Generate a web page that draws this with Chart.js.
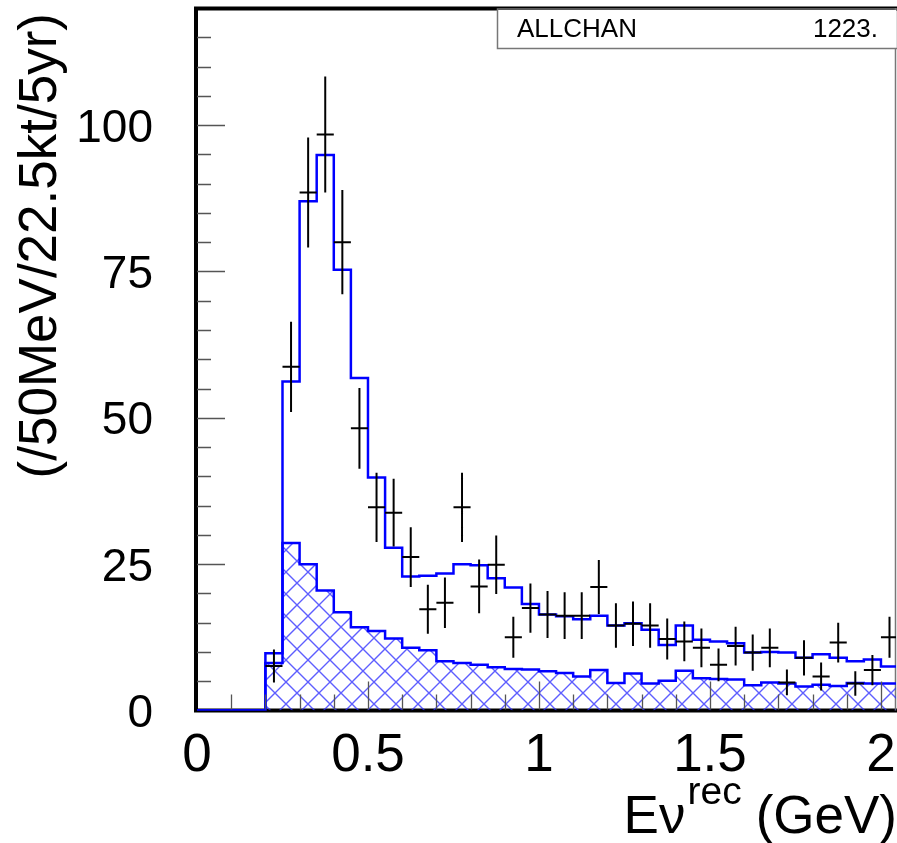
<!DOCTYPE html>
<html>
<head>
<meta charset="utf-8">
<script src="https://cdn.jsdelivr.net/npm/chart.js@4.4.1/dist/chart.umd.min.js"></script>
<style>
  html, body { margin: 0; padding: 0; background: #fff; }
  canvas { display: block; }
</style>
</head>
<body>
<canvas id="c" width="897" height="843"></canvas>
<script>
// bin low edges (GeV), 50 MeV bins
const binLow = [0, 0.05, 0.1, 0.15, 0.2, 0.25, 0.3, 0.35, 0.4, 0.45,
  0.5, 0.55, 0.6, 0.65, 0.7, 0.75, 0.8, 0.85, 0.9, 0.95,
  1.0, 1.05, 1.1, 1.15, 1.2, 1.25, 1.3, 1.35, 1.4, 1.45,
  1.5, 1.55, 1.6, 1.65, 1.7, 1.75, 1.8, 1.85, 1.9, 1.95, 2.0];
const binWidth = 0.05;

// total expectation (open blue histogram)
const totalMC = [0, 0, 0, 0, 9.8, 56.2, 87.0, 94.9, 75.3, 56.8,
  39.8, 27.8, 22.9, 23.0, 23.4, 25.0, 24.8, 22.6, 21.0, 18.2,
  16.4, 16.1, 15.6, 16.2, 14.5, 14.9, 13.8, 11.2, 14.5, 12.1,
  11.8, 11.5, 9.9, 10.0, 9.9, 9.0, 9.6, 9.0, 8.4, 8.7, 7.5];

// background (hatched histogram)
const background = [0, 0, 0, 0, 8.1, 28.6, 25.0, 20.5, 16.8, 14.2,
  13.6, 12.3, 10.7, 10.3, 8.4, 8.1, 7.8, 7.4, 7.1, 7.0,
  6.7, 6.4, 5.8, 6.9, 4.7, 6.3, 4.6, 5.1, 6.8, 5.5,
  5.4, 5.3, 4.3, 4.8, 4.6, 4.1, 4.4, 4.2, 4.7, 4.6, 4.6];

// pseudo data points and their errors
const dataVal = [null, null, null, null, 7.6, 58.7, 88.5, 98.4, 80.0, 48.2,
  34.7, 33.8, 26.2, 17.3, 18.4, 34.7, 21.2, 24.9, 12.5, 17.5,
  16.4, 16.2, 16.2, 21.1, 14.5, 14.8, 14.5, 12.2, 11.8, 10.7,
  7.8, 11.0, 9.9, 10.7, 4.8, 9.0, 5.8, 11.6, 4.6, 6.9, 12.5];
const dataErr = [null, null, null, null, 2.8, 7.7, 9.4, 9.9, 8.9, 6.9,
  5.9, 5.8, 5.1, 4.2, 4.3, 5.9, 4.6, 5.0, 3.5, 4.2,
  4.0, 4.0, 4.0, 4.6, 3.8, 3.8, 3.8, 3.5, 3.4, 3.3,
  2.8, 3.3, 3.1, 3.3, 2.2, 3.0, 2.4, 3.4, 2.1, 2.6, 3.5];

const xTicks = [0, 0.5, 1, 1.5, 2];
const xTickLabels = ["0", "0.5", "1", "1.5", "2"];
const yTicks = [0, 25, 50, 75, 100];
const yTickLabels = ["0", "25", "50", "75", "100"];
const boxLabel = "ALLCHAN";
const boxValue = "1223.";

const FONT = "'Liberation Sans', Arial, Helvetica, sans-serif";

// stepped histogram points: one per low edge + closing edge
const histPoints = (vals) => {
  const pts = binLow.map((x, i) => ({ x: x, y: vals[i] }));
  pts.push({ x: binLow[binLow.length - 1] + binWidth, y: vals[vals.length - 1] });
  return pts;
};

const makeHatch = () => {
  const s = 22;
  const c = document.createElement("canvas");
  c.width = s; c.height = s;
  const g = c.getContext("2d");
  g.strokeStyle = "rgba(40,40,255,0.75)";
  g.lineWidth = 1.4;
  g.beginPath();
  g.moveTo(-2, -2); g.lineTo(s + 2, s + 2);
  g.moveTo(s + 2, -2); g.lineTo(-2, s + 2);
  g.stroke();
  return g.createPattern(c, "repeat");
};

const rootStyle = {
  id: "rootStyle",
  beforeDatasetsDraw(chart) {
    const { ctx, chartArea: a } = chart;
    ctx.save();
    ctx.strokeStyle = "#000";
    ctx.lineWidth = 4;
    ctx.beginPath();
    ctx.moveTo(a.left - 1, a.top + 0.5);
    ctx.lineTo(a.right + 2, a.top + 0.5);
    ctx.moveTo(a.left - 1, a.top - 1.5);
    ctx.lineTo(a.left - 1, a.bottom + 2);
    ctx.moveTo(a.left - 3, a.bottom);
    ctx.lineTo(a.right + 2, a.bottom);
    ctx.stroke();
    ctx.strokeStyle = "#777";
    ctx.lineWidth = 1.5;
    ctx.beginPath();
    ctx.moveTo(a.right - 0.5, a.top);
    ctx.lineTo(a.right - 0.5, a.bottom);
    ctx.stroke();
    ctx.restore();
  },
  afterDatasetsDraw(chart) {
    const { ctx, chartArea: a, scales: { x, y } } = chart;
    ctx.save();

    // data crosses
    ctx.save();
    ctx.beginPath();
    ctx.rect(a.left, a.top, a.right - a.left, a.bottom - a.top);
    ctx.clip();
    ctx.strokeStyle = "#000";
    ctx.lineWidth = 2;
    ctx.beginPath();
    dataVal.forEach((v, i) => {
      if (v === null) return;
      const xc = x.getPixelForValue(binLow[i] + binWidth / 2);
      const x1 = x.getPixelForValue(binLow[i]);
      const x2 = x.getPixelForValue(binLow[i] + binWidth);
      const yc = y.getPixelForValue(v);
      ctx.moveTo(x1, yc);
      ctx.lineTo(x2, yc);
      ctx.moveTo(xc, y.getPixelForValue(v + dataErr[i]));
      ctx.lineTo(xc, y.getPixelForValue(v - dataErr[i]));
    });
    ctx.stroke();
    ctx.restore();

    // inward ticks
    ctx.strokeStyle = "#555";
    ctx.lineWidth = 1.3;
    ctx.beginPath();
    for (let k = 1; k * 5 < y.max; k++) {
      const v = k * 5;
      const py = Math.round(y.getPixelForValue(v)) + 0.5;
      const len = v % 25 === 0 ? 28 : 14;
      ctx.moveTo(a.left, py);
      ctx.lineTo(a.left + len, py);
    }
    for (let k = 1; k * 0.1 < x.max; k++) {
      const v = k * 0.1;
      const px = Math.round(x.getPixelForValue(v)) + 0.5;
      const len = k % 5 === 0 ? 28 : 15;
      ctx.moveTo(px, a.bottom - 1);
      ctx.lineTo(px, a.bottom - 1 - len);
    }
    ctx.stroke();

    // stats-style box
    const bx = Math.round(x.getPixelForValue(0.877));
    ctx.fillStyle = "#fff";
    ctx.fillRect(bx, a.top + 2, a.right - bx, 38);
    ctx.strokeStyle = "#777";
    ctx.lineWidth = 1.5;
    ctx.strokeRect(bx + 0.5, a.top + 1, a.right - bx + 4, 39.5);
    ctx.fillStyle = "#000";
    ctx.font = "26px " + FONT;
    ctx.textBaseline = "alphabetic";
    ctx.textAlign = "left";
    ctx.fillText(boxLabel, bx + 20, 37);
    ctx.textAlign = "right";
    ctx.fillText(boxValue, a.right - 18, 37);

    // tick labels
    ctx.fillStyle = "#000";
    ctx.font = "53px " + FONT;
    ctx.textAlign = "center";
    xTicks.forEach((v, i) => {
      ctx.fillText(xTickLabels[i], x.getPixelForValue(v), 771);
    });
    ctx.font = "46px " + FONT;
    ctx.textAlign = "right";
    yTicks.forEach((v, i) => {
      ctx.fillText(yTickLabels[i], 153, y.getPixelForValue(v) + 16.5);
    });

    // y title
    ctx.save();
    ctx.translate(56, 13);
    ctx.rotate(-Math.PI / 2);
    ctx.font = "53px " + FONT;
    ctx.textAlign = "right";
    ctx.fillText("(/50MeV/22.5kt/5yr)", 0, 0);
    ctx.restore();

    // x title: Ev^rec (GeV)
    ctx.font = "53px " + FONT;
    ctx.textAlign = "right";
    const tail = "(GeV)";
    ctx.fillText(tail, 897, 833);
    let xe = 897 - ctx.measureText(tail).width - 14;
    ctx.font = "39px " + FONT;
    ctx.fillText("rec", xe, 804);
    xe -= ctx.measureText("rec").width + 2;
    ctx.font = "53px " + FONT;
    ctx.fillText("E\u03bd", xe, 833);

    ctx.restore();
  }
};

new Chart(document.getElementById("c"), {
  type: "line",
  data: {
    datasets: [
      {
        label: "background",
        data: histPoints(background),
        stepped: "before",
        borderColor: "#0000ff",
        borderWidth: 2.5,
        backgroundColor: makeHatch(),
        fill: "origin",
        pointRadius: 0,
      },
      {
        label: "total",
        data: histPoints(totalMC),
        stepped: "before",
        borderColor: "#0000ff",
        borderWidth: 2.5,
        fill: false,
        pointRadius: 0,
      },
    ],
  },
  options: {
    responsive: false,
    animation: false,
    devicePixelRatio: 1,
    layout: { padding: { left: 197, right: 1, top: 8, bottom: 132.5 } },
    plugins: {
      legend: { display: false },
      tooltip: { enabled: false },
    },
    scales: {
      x: { type: "linear", min: 0, max: 2.044, display: false },
      y: { type: "linear", min: 0, max: 120, display: false },
    },
  },
  plugins: [rootStyle],
});
</script>
</body>
</html>
